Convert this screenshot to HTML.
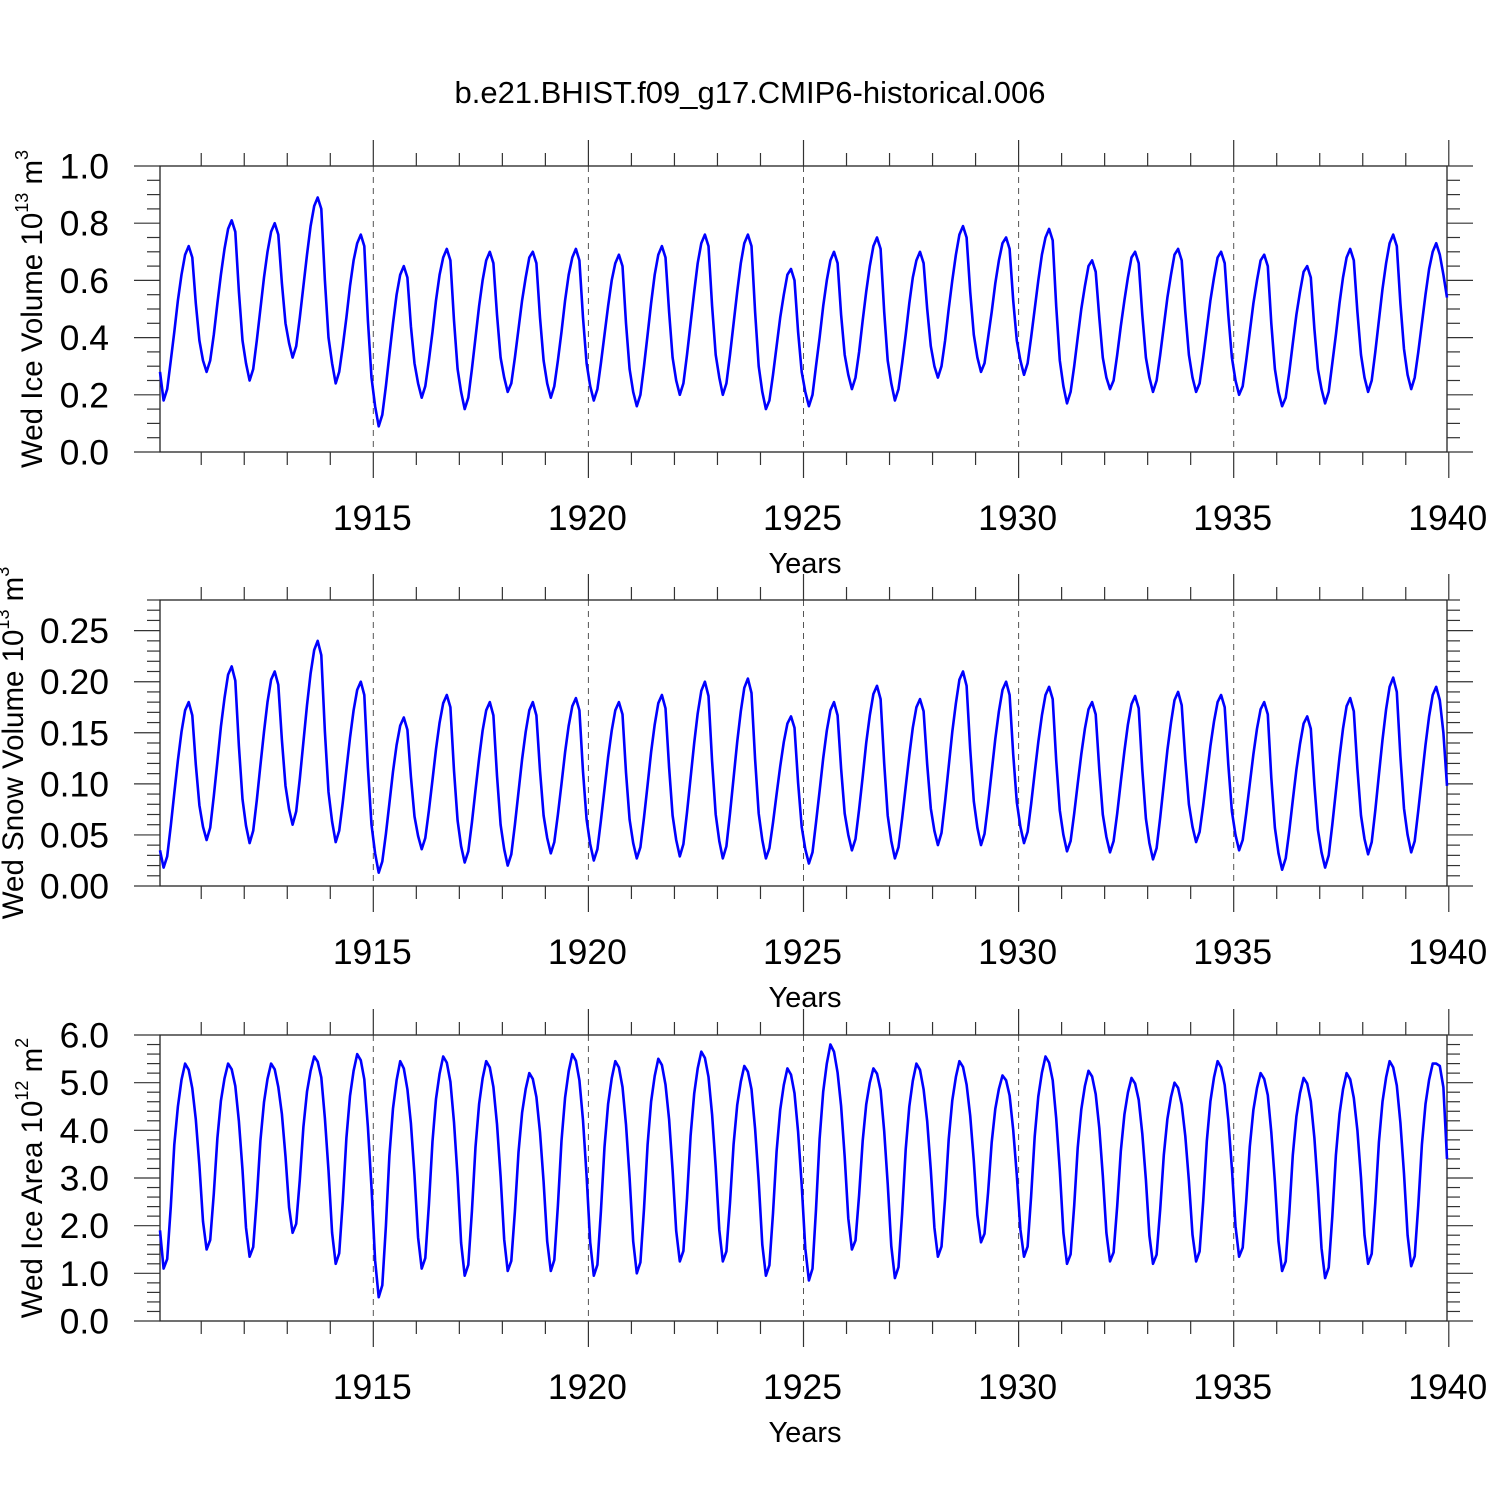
<!DOCTYPE html>
<html><head><meta charset="utf-8">
<style>
html,body{margin:0;padding:0;background:#fff;}
svg{display:block;font-family:"Liberation Sans",sans-serif;}
</style></head>
<body>
<svg id="chart" width="1500" height="1500" viewBox="0 0 1500 1500" xmlns="http://www.w3.org/2000/svg">
<rect width="1500" height="1500" fill="#fff"/>
<text x="750" y="103" font-size="31" text-anchor="middle">b.e21.BHIST.f09_g17.CMIP6-historical.006</text>
</svg>
<script>
const startYear = 1910;
const xTickYears = [1915, 1920, 1925, 1930, 1935, 1940];
const iceVolume = [
.28,.18,.22,.32,.42,.53,.62,.69,.72,.68,.52,.39,
.32,.28,.32,.41,.52,.62,.71,.78,.81,.77,.56,.39,
.31,.25,.29,.39,.50,.61,.70,.77,.80,.76,.59,.45,
.38,.33,.37,.47,.58,.69,.79,.86,.89,.85,.60,.40,
.31,.24,.28,.37,.47,.58,.67,.73,.76,.72,.46,.26,
.16,.09,.13,.23,.34,.45,.55,.62,.65,.61,.44,.31,
.24,.19,.23,.32,.42,.53,.62,.68,.71,.67,.46,.29,
.21,.15,.19,.29,.40,.51,.60,.67,.70,.66,.48,.33,
.26,.21,.24,.33,.43,.53,.61,.68,.70,.66,.47,.32,
.24,.19,.23,.32,.42,.53,.62,.68,.71,.67,.47,.31,
.23,.18,.22,.31,.41,.51,.60,.66,.69,.65,.45,.29,
.21,.16,.20,.30,.41,.52,.62,.69,.72,.68,.49,.33,
.25,.20,.24,.34,.45,.56,.66,.73,.76,.72,.51,.34,
.26,.20,.24,.34,.45,.56,.66,.73,.76,.72,.49,.30,
.21,.15,.18,.27,.37,.47,.55,.62,.64,.60,.42,.28,
.21,.16,.20,.30,.40,.51,.60,.67,.70,.66,.48,.34,
.27,.22,.26,.35,.46,.56,.65,.72,.75,.71,.49,.32,
.24,.18,.22,.31,.41,.52,.61,.67,.70,.66,.50,.37,
.30,.26,.30,.39,.50,.60,.69,.76,.79,.75,.56,.41,
.33,.28,.31,.40,.49,.59,.67,.73,.75,.71,.53,.39,
.32,.27,.31,.40,.50,.60,.69,.75,.78,.74,.51,.32,
.23,.17,.21,.30,.40,.50,.58,.65,.67,.63,.47,.33,
.26,.22,.25,.34,.44,.53,.61,.68,.70,.66,.48,.33,
.26,.21,.25,.34,.44,.54,.62,.69,.71,.67,.49,.34,
.26,.21,.24,.33,.43,.53,.61,.68,.70,.66,.48,.33,
.25,.20,.23,.32,.42,.52,.60,.67,.69,.65,.45,.29,
.21,.16,.19,.28,.38,.48,.56,.63,.65,.61,.43,.29,
.22,.17,.21,.31,.41,.52,.61,.68,.71,.67,.49,.34,
.26,.21,.25,.35,.46,.57,.66,.73,.76,.72,.52,.36,
.27,.22,.26,.35,.45,.55,.64,.70,.73,.69,.62,.54];
const snowVolume = [
.035,.018,.029,.059,.091,.123,.151,.172,.180,.167,.119,.079,
.058,.045,.057,.088,.122,.156,.184,.207,.215,.201,.137,.085,
.059,.042,.054,.084,.118,.151,.180,.202,.210,.197,.143,.098,
.075,.060,.073,.105,.141,.177,.208,.231,.240,.226,.151,.092,
.063,.043,.054,.082,.114,.145,.172,.192,.200,.187,.116,.060,
.032,.013,.024,.051,.081,.112,.138,.157,.165,.153,.107,.068,
.049,.036,.047,.074,.104,.134,.160,.179,.187,.175,.113,.064,
.039,.023,.034,.062,.094,.125,.152,.172,.180,.167,.108,.060,
.036,.020,.031,.060,.092,.124,.151,.172,.180,.167,.113,.069,
.047,.032,.043,.070,.100,.131,.157,.176,.184,.172,.112,.065,
.041,.025,.036,.064,.095,.126,.152,.172,.180,.168,.111,.065,
.042,.027,.038,.067,.099,.131,.158,.179,.187,.174,.116,.069,
.045,.029,.041,.072,.106,.140,.169,.191,.200,.186,.122,.070,
.044,.027,.039,.071,.106,.141,.171,.194,.203,.189,.124,.071,
.045,.027,.037,.062,.090,.117,.141,.159,.166,.155,.101,.058,
.036,.022,.033,.062,.093,.125,.152,.172,.180,.167,.115,.071,
.050,.035,.046,.075,.107,.140,.167,.188,.196,.183,.120,.069,
.044,.027,.038,.066,.097,.128,.155,.175,.183,.171,.119,.076,
.054,.040,.052,.083,.117,.151,.179,.202,.210,.196,.134,.083,
.057,.040,.051,.080,.112,.144,.171,.192,.200,.187,.129,.082,
.058,.042,.053,.080,.111,.141,.167,.187,.195,.183,.123,.074,
.050,.034,.044,.071,.100,.129,.154,.173,.180,.168,.114,.070,
.048,.033,.044,.071,.102,.132,.158,.178,.186,.174,.114,.066,
.042,.026,.037,.067,.100,.133,.160,.182,.190,.177,.124,.080,
.058,.043,.053,.079,.108,.137,.161,.180,.187,.175,.119,.073,
.050,.035,.045,.071,.100,.129,.154,.173,.180,.168,.106,.057,
.032,.016,.027,.054,.084,.114,.139,.159,.166,.154,.099,.055,
.033,.018,.030,.060,.093,.126,.154,.176,.184,.171,.115,.069,
.046,.031,.043,.074,.109,.143,.173,.195,.204,.190,.127,.076,
.050,.033,.044,.074,.106,.138,.166,.187,.195,.182,.150,.098];
const iceArea = [
1.9,1.1,1.3,2.4,3.7,4.5,5.06,5.4,5.27,4.88,4.23,3.26,
2.09,1.5,1.7,2.67,3.84,4.62,5.09,5.4,5.28,4.93,4.19,3.17,
1.96,1.35,1.55,2.57,3.78,4.59,5.08,5.4,5.28,4.91,4.34,3.45,
2.38,1.85,2.04,2.96,4.07,4.81,5.25,5.55,5.44,5.11,4.25,3.16,
1.85,1.2,1.42,2.52,3.84,4.72,5.25,5.6,5.47,5.07,4.07,2.8,
1.27,.5,.75,1.99,3.47,4.46,5.05,5.45,5.3,4.86,4.15,3.06,
1.75,1.1,1.32,2.44,3.77,4.66,5.19,5.55,5.42,5.02,4.17,3.02,
1.64,.95,1.18,2.3,3.65,4.55,5.09,5.45,5.32,4.91,4.13,3.03,
1.71,1.05,1.26,2.3,3.54,4.37,4.87,5.2,5.08,4.7,3.96,2.92,
1.67,1.05,1.28,2.42,3.78,4.69,5.24,5.6,5.46,5.05,4.21,3.04,
1.65,.95,1.18,2.3,3.65,4.55,5.09,5.45,5.32,4.91,4.12,3.0,
1.67,1.0,1.23,2.35,3.7,4.6,5.14,5.5,5.37,4.96,4.23,3.16,
1.89,1.25,1.47,2.57,3.89,4.77,5.3,5.65,5.52,5.12,4.33,3.23,
1.91,1.25,1.46,2.48,3.71,4.53,5.02,5.35,5.23,4.86,4.03,2.93,
1.6,.95,1.17,2.26,3.56,4.43,4.95,5.3,5.17,4.78,3.97,2.85,
1.52,.85,1.1,2.34,3.82,4.81,5.4,5.8,5.65,5.21,4.51,3.44,
2.15,1.5,1.69,2.64,3.78,4.54,5.0,5.3,5.19,4.84,3.98,2.88,
1.57,.9,1.13,2.25,3.6,4.5,5.04,5.4,5.27,4.86,4.19,3.17,
1.96,1.35,1.56,2.58,3.81,4.63,5.12,5.45,5.33,4.96,4.31,3.36,
2.22,1.65,1.83,2.7,3.75,4.45,4.87,5.15,5.05,4.73,4.01,3.06,
1.92,1.35,1.56,2.61,3.87,4.71,5.21,5.55,5.42,5.05,4.25,3.16,
1.85,1.2,1.4,2.42,3.63,4.44,4.93,5.25,5.13,4.76,4.05,3.05,
1.85,1.25,1.44,2.41,3.56,4.33,4.79,5.1,4.98,4.64,3.93,2.96,
1.79,1.2,1.39,2.34,3.48,4.24,4.7,5.0,4.89,4.54,3.88,2.94,
1.81,1.25,1.46,2.51,3.77,4.61,5.11,5.45,5.32,4.95,4.22,3.2,
1.99,1.35,1.54,2.51,3.66,4.43,4.89,5.2,5.08,4.74,3.96,2.92,
1.67,1.05,1.25,2.27,3.48,4.29,4.78,5.1,4.98,4.61,3.84,2.79,
1.53,.9,1.12,2.19,3.48,4.34,4.86,5.2,5.07,4.68,4.0,3.0,
1.8,1.2,1.41,2.48,3.75,4.6,5.11,5.45,5.32,4.94,4.16,3.09,
1.8,1.15,1.36,2.43,3.7,4.55,5.06,5.4,5.4,5.35,4.9,3.4];
const iceVolTicks = ["0.0","0.2","0.4","0.6","0.8","1.0"];
const snowTicks = ["0.00","0.05","0.10","0.15","0.20","0.25"];
const areaTicks = ["0.0","1.0","2.0","3.0","4.0","5.0","6.0"];

const NS = "http://www.w3.org/2000/svg";
const svg = document.getElementById('chart');
const X0 = 160, X1 = 1447;
const monthsTotal = 360;
function xOfMonth(i){ return X0 + i * (X1 - X0) / (monthsTotal - 1); }
function xOfYear(y){ return X0 + ((y - startYear)*12 - 0.5) * (X1 - X0) / (monthsTotal - 1); }
function el(tag, attrs, parent){ const e = document.createElementNS(NS, tag); for (const k in attrs) e.setAttribute(k, attrs[k]); (parent||svg).appendChild(e); return e; }

const panels = [
 {name:'ice-volume', top:166, bot:452, max:1.0, major:0.2, minor:0.05, ticks:iceVolTicks, data:iceVolume, title:'Wed Ice Volume 10', sup:'13', unit:' m', usup:'3', tx:42},
 {name:'snow-volume', top:600, bot:886, max:0.28, major:0.05, minor:0.01, ticks:snowTicks, data:snowVolume, title:'Wed Snow Volume 10', sup:'13', unit:' m', usup:'3', tx:23},
 {name:'ice-area', top:1035, bot:1321, max:6.0, major:1.0, minor:0.2, ticks:areaTicks, data:iceArea, title:'Wed Ice Area 10', sup:'12', unit:' m', usup:'2', tx:42}
];

panels.forEach(p => {
  const g = el('g', {});
  
  
  const yS = v => p.bot - v / p.max * (p.bot - p.top);
  xTickYears.slice(0,5).forEach(yr => {
    const l = el('line', {x1:xOfYear(yr), x2:xOfYear(yr), y1:p.top, y2:p.bot, stroke:'#555', 'stroke-width':1, 'stroke-dasharray':'6,5'}, g);
    
    
  });
  const fr = el('rect', {x:X0, y:p.top, width:X1-X0, height:p.bot-p.top, fill:'none', stroke:'#222', 'stroke-width':1.3}, g);
  
  
  const nMinor = Math.round(p.max / p.minor);
  for (let k = 0; k <= nMinor; k++) {
    const v = k * p.minor;
    const isMajor = Math.abs(v / p.major - Math.round(v / p.major)) < 1e-6;
    const len = isMajor ? 26 : 13;
    const y = yS(v);
    el('line', {x1:X0-len, x2:X0, y1:y, y2:y, stroke:'#333', 'stroke-width':1.2}, g);
    el('line', {x1:X1, x2:X1+len, y1:y, y2:y, stroke:'#333', 'stroke-width':1.2}, g);
  }
  p.ticks.forEach((lab, k) => {
    const t = el('text', {x:109, y:yS(k*p.major)+12.5, 'font-size':35.5, 'text-anchor':'end'}, g);
    t.textContent = lab;
    
    
  });
  for (let yr = startYear + 1; yr <= 1940; yr++) {
    const x = xOfYear(yr);
    const isMajor = yr % 5 === 0;
    const len = isMajor ? 26 : 13;
    el('line', {x1:x, x2:x, y1:p.top-len, y2:p.top, stroke:'#333', 'stroke-width':1.2}, g);
    el('line', {x1:x, x2:x, y1:p.bot, y2:p.bot+len, stroke:'#333', 'stroke-width':1.2}, g);
  }
  xTickYears.forEach(yr => {
    const t = el('text', {x:xOfYear(yr)-1, y:p.bot+78, 'font-size':35.5, 'text-anchor':'middle'}, g);
    t.textContent = yr;
    
    
  });
  const xt = el('text', {x:805, y:p.bot+121, 'font-size':29, 'text-anchor':'middle'}, g);
  xt.textContent = 'Years';
  
  
  const cy = (p.top + p.bot) / 2;
  const yt = el('text', {x:0, y:0, 'font-size':29.5, 'text-anchor':'middle', transform:'translate(' + p.tx + ',' + cy + ') rotate(-90)'}, g);
  
  
  const s1 = document.createElementNS(NS, 'tspan'); s1.textContent = p.title; yt.appendChild(s1);
  const s2 = document.createElementNS(NS, 'tspan'); s2.setAttribute('font-size', 18); s2.setAttribute('dy', -14); s2.textContent = p.sup; yt.appendChild(s2);
  const s3 = document.createElementNS(NS, 'tspan'); s3.setAttribute('dy', 14); s3.textContent = p.unit; yt.appendChild(s3);
  const s4 = document.createElementNS(NS, 'tspan'); s4.setAttribute('font-size', 18); s4.setAttribute('dy', -14); s4.textContent = p.usup; yt.appendChild(s4);
  const pts = p.data.map((v, i) => xOfMonth(i).toFixed(1) + ',' + yS(v).toFixed(1)).join(' ');
  const pl = el('polyline', {points:pts, fill:'none', stroke:'#0000ff', 'stroke-width':2.6, 'stroke-linejoin':'round'}, g);
  
  
});
</script>
</body></html>
